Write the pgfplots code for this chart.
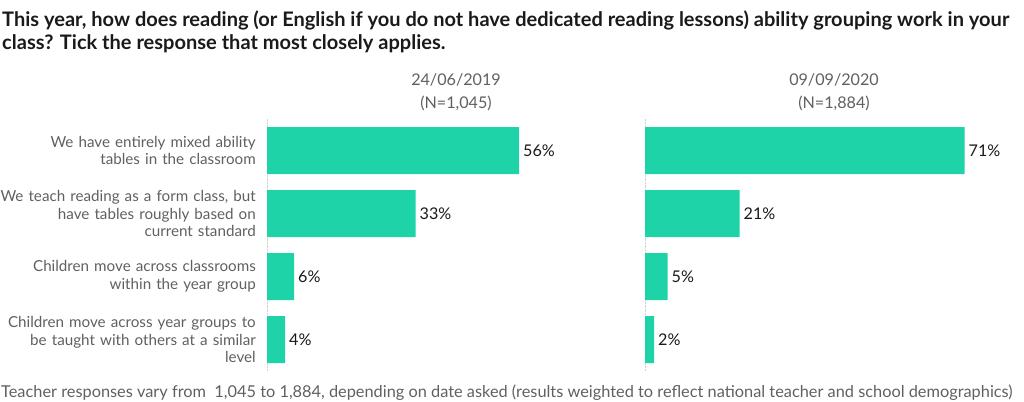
\documentclass[border=0pt]{standalone}
\usepackage{pgfplots}
\pgfplotsset{compat=1.18}
\usepackage{fontspec}
\setmainfont{Lato}
\definecolor{barc}{HTML}{1FD3A8}
\definecolor{lab}{HTML}{606060}
\definecolor{ttl}{HTML}{1A1A1A}
\pgfplotsset{panel/.style={
  at={(#1,30bp)}, anchor=south west,
  width=378bp, height=252bp, scale only axis,
  xmin=0, xmax=84, ymin=-0.5, ymax=3.5, y dir=reverse,
  xbar, bar width=47bp,
  axis x line=none, axis y line=left,
  axis line style={-, densely dotted, gray!35},
  ytick={0,1,2,3}, major tick length=0pt,
  yticklabel style={align=right, text width=290bp, inner sep=0pt, xshift=-11bp,
    font=\fontsize{15.25}{17.6}\selectfont, text=lab},
  /pgf/number format/assume math mode=true,
  nodes near coords={\pgfmathprintnumber{\pgfplotspointmeta}\%},
  nodes near coords style={anchor=west, inner sep=0pt, xshift=4bp,
    font=\fontsize{16.2}{18}\selectfont, text=ttl},
  title style={at={(0.5,1)}, anchor=south, align=center, inner sep=0pt, yshift=2bp,
    font=\fontsize{16.2}{23}\selectfont, text=lab},
}}
\begin{document}
\begin{tikzpicture}[x=1bp,y=1bp]
\path[use as bounding box] (0,0) rectangle (1024,401);
\node[anchor=base west, inner sep=0pt, text=ttl,
  font=\bfseries\fontsize{20.1}{23}\selectfont] at (2,374.3)
  {This year, how does reading (or English if you do not have dedicated reading lessons) ability grouping work in your};
\node[anchor=base west, inner sep=0pt, text=ttl,
  font=\bfseries\fontsize{20.1}{23}\selectfont] at (2,351.7)
  {class? Tick the response that most closely applies.};
\begin{axis}[panel=267bp,
  title={24/06/2019\\(N=1,045)},
  yticklabels={{We have entirely mixed ability\\tables in the classroom},
    {We teach reading as a form class, but\\have tables roughly based on\\current standard},
    {Children move across classrooms\\within the year group},
    {Children move across year groups to\\be taught with others at a similar\\level}}]
\addplot[fill=barc, draw=none] coordinates {(56,0) (33,1) (6,2) (4,3)};
\end{axis}
\begin{axis}[panel=645bp,
  title={09/09/2020\\(N=1,884)},
  yticklabels={}]
\addplot[fill=barc, draw=none] coordinates {(71,0) (21,1) (5,2) (2,3)};
\end{axis}
\node[anchor=base west, inner sep=0pt, text=lab, font=\fontsize{16.4}{18}\selectfont] at (1,4)
  {Teacher responses vary from\ \ 1,045 to 1,884, depending on date asked (results weighted to reflect national teacher and school demographics)};
\end{tikzpicture}
\end{document}
